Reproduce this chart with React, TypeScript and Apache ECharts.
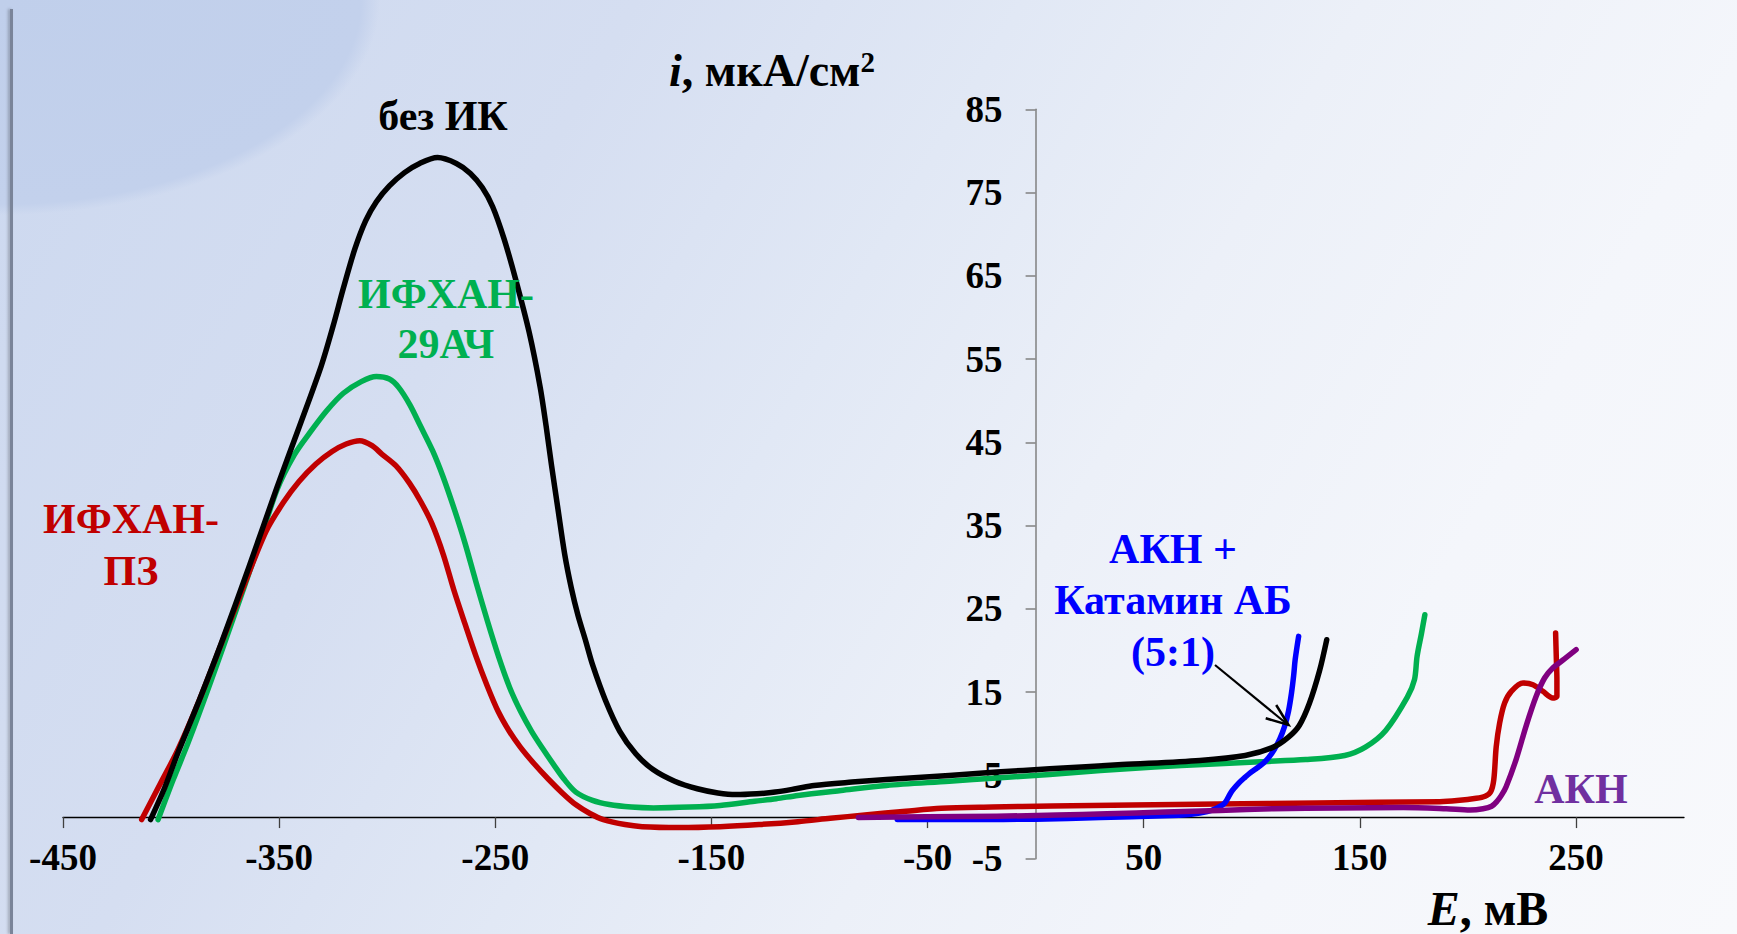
import React, { useEffect, useRef } from "react";
import * as echarts from "echarts";

// Tick values
const xTicks = [-450, -350, -250, -150, -50, 50, 150, 250];
const yTicks = [-5, 5, 15, 25, 35, 45, 55, 65, 75, 85];

// Series data: [E, mV ; i, µA/cm²]
const bezIK: [number, number][] = [
  [-409.5, -0.3], [-403, 3.5], [-397, 7.6], [-387, 14], [-376.6, 21], [-364, 30], [-351, 39.6],
  [-340.5, 47], [-330.5, 54.2], [-325, 59], [-320.3, 63.5], [-315, 68.2], [-310, 71.6], [-305, 73.9],
  [-299, 75.8], [-292, 77.4], [-285, 78.5], [-276.7, 79.2], [-268, 78.5], [-261.5, 77.3], [-256, 75.6],
  [-251.2, 73.3], [-246, 69.5], [-240.8, 64.8], [-234.3, 58.2], [-229.2, 51.6], [-226.5, 47],
  [-224, 42.3], [-221, 37], [-217.9, 31.6], [-214.8, 27.5], [-211.8, 24.3], [-208, 21], [-205, 18.3],
  [-199, 14], [-192.4, 10.3], [-185, 7.6], [-177, 5.7], [-167, 4.3], [-156.5, 3.4], [-147, 2.9],
  [-138.6, 2.7], [-129, 2.8], [-120.5, 3], [-111, 3.4], [-102.5, 3.8], [-85, 4.2], [-69, 4.5],
  [-40, 5], [-18, 5.4], [6.5, 5.8], [40, 6.3], [76, 6.8], [97, 7.4], [110, 8.4], [117, 9.6],
  [122, 11], [126.6, 13.6], [131.4, 17.6], [134.7, 21.3],
];

const ifhan29: [number, number][] = [
  [-406, -0.3], [-399, 4.5], [-392, 9], [-382, 16], [-371.6, 23.6], [-361, 31.5], [-351, 39.3],
  [-343, 43.5], [-335.7, 46.2], [-328, 48.8], [-320.3, 50.9], [-312, 52.3], [-305, 52.9],
  [-299, 52.6], [-294.7, 51.6], [-289.5, 49.5], [-284.5, 46.9], [-279, 44], [-274.2, 40.9],
  [-269, 37], [-264, 32.9], [-259, 28.3], [-253.7, 23.6], [-248.5, 19.3], [-243.4, 15.6],
  [-238.3, 12.7], [-233.2, 10.3], [-228, 8.2], [-223, 6.3], [-218, 4.5], [-212.7, 3], [-205, 2],
  [-197.3, 1.5], [-187, 1.2], [-176.8, 1.1], [-160, 1.2], [-146, 1.4], [-130, 1.9], [-120, 2.2],
  [-110, 2.6], [-90, 3.2], [-69, 3.8], [-40, 4.3], [-18, 4.7], [6.5, 5.1], [30, 5.6], [55, 6.0],
  [80, 6.35], [104, 6.65], [125, 6.9], [143, 7.4], [152.6, 8.4], [162, 10.4], [172, 14.4],
  [175.3, 16.5], [176.5, 19.3], [178.5, 22], [180.1, 24.3],
];

const ifhanPZ: [number, number][] = [
  [-413.6, -0.3], [-405, 4], [-397, 8], [-387, 14], [-376.6, 20.9], [-366, 28], [-356.1, 34.3],
  [-348, 37.8], [-340.8, 40.3], [-333, 42.4], [-325.5, 43.9], [-319, 44.8], [-312.7, 45.2],
  [-307, 44.6], [-302.5, 43.6], [-296, 42.2], [-289.7, 40.1], [-284.5, 37.9], [-279.4, 35.3],
  [-274, 31.5], [-269.2, 27.3], [-264, 23.2], [-258.9, 19.3], [-253.8, 15.8], [-248.7, 12.7],
  [-243.5, 10.3], [-238.4, 8.4], [-232, 6.4], [-225.6, 4.6], [-219, 2.9], [-212.8, 1.5],
  [-206, 0.4], [-200, -0.3], [-190, -0.9], [-182, -1.15], [-165, -1.25], [-146, -1.15],
  [-128, -0.9], [-110, -0.55], [-95, -0.15], [-79, 0.25], [-60, 0.7], [-43.6, 1.05], [-20, 1.2],
  [7.6, 1.33], [45, 1.45], [84.5, 1.57], [130, 1.7], [187, 1.85], [195, 1.98], [203.9, 2.25],
  [208, 2.5], [210.5, 3.0], [212, 4.5], [213.1, 8.4], [214.7, 11.3], [217, 13.7], [220.1, 15.1],
  [225.5, 16.1], [230.1, 15.9], [234.7, 15.1], [239.3, 14.3], [241.2, 14.5], [241.2, 16.5],
  [240.9, 19.3], [240.6, 22.1],
];

const akn: [number, number][] = [
  [-82, -0.05], [-50, 0.05], [-18, 0.1], [10, 0.25], [33, 0.4], [60, 0.6], [85, 0.8], [110, 1.0],
  [140, 1.1], [170, 1.15], [190, 1.0], [201, 0.85], [207, 1.0], [211, 1.3], [213.5, 1.9],
  [215.5, 2.6], [217.7, 3.65], [222.3, 6.9], [226.9, 10.9], [231.6, 14.5], [235.5, 16.7],
  [239.3, 17.9], [244.7, 19], [250.1, 20.1],
];

const aknKatamin: [number, number][] = [
  [-64, -0.3], [-30, -0.3], [0, -0.25], [30, -0.05], [59, 0.15], [72, 0.35], [79.4, 0.65],
  [84, 1.1], [87.6, 1.7], [90.5, 3.0], [94.1, 4.1], [97, 4.8], [99, 5.25], [102, 5.8],
  [105.5, 6.5], [108, 7.2], [110.4, 8.1], [113, 9.4], [115.2, 10.9], [117, 12.7], [118.4, 14.9],
  [119.4, 17], [120.1, 18.9], [121.7, 21.7],
];

const FONT = '"Liberation Serif", "Times New Roman", serif';

const X_MIN = -450;
const X_MAX = 300;
const Y_MIN = -5;
const Y_MAX = 85;

export default function App() {
  const ref = useRef<HTMLDivElement>(null);

  useEffect(() => {
    if (!ref.current) return;
    const chart = echarts.init(ref.current, undefined, { renderer: "svg" });
    const G = { left: 63, top: 109.3, width: 1621, height: 749.4 };
    // distance from grid edges to the zero lines
    const yAxisOffset = -((0 - X_MIN) / (X_MAX - X_MIN)) * G.width;
    const xAxisOffset = -((0 - Y_MIN) / (Y_MAX - Y_MIN)) * G.height;
    const lbl = { fontFamily: FONT, fontWeight: "bold", fontSize: 37, color: "#000" };
    const mk = (name: string, data: [number, number][], color: string, z: number) => ({
      name,
      type: "line",
      data,
      showSymbol: false,
      symbol: "none",
      smooth: 0.3,
      z,
      clip: false,
      lineStyle: { color, width: 5.5, cap: "round", join: "round" },
    });
    const annot = (text: string, x: number, y: number, fill: string, lh = 51) => ({
      type: "text",
      x,
      y,
      z: 100,
      style: {
        text,
        fill,
        fontFamily: FONT,
        fontWeight: "bold",
        fontSize: 42,
        lineHeight: lh,
        align: "center",
        verticalAlign: "middle",
      },
    });
    chart.setOption({
      animation: false,
      backgroundColor: "transparent",
      grid: G,
      xAxis: {
        type: "value",
        min: X_MIN,
        max: X_MAX,
        position: "bottom",
        offset: xAxisOffset,
        splitLine: { show: false },
        axisLine: { onZero: false, lineStyle: { color: "#000", width: 1.3 } },
        axisTick: { customValues: xTicks, length: 11, lineStyle: { color: "#404040", width: 1.3 } },
        axisLabel: { customValues: xTicks, margin: 22, ...lbl },
      },
      yAxis: {
        type: "value",
        min: Y_MIN,
        max: Y_MAX,
        position: "left",
        offset: yAxisOffset,
        splitLine: { show: false },
        axisLine: { onZero: false, lineStyle: { color: "#808080", width: 1.5 } },
        axisTick: { customValues: yTicks, length: 10, lineStyle: { color: "#808080", width: 1.5 } },
        axisLabel: { customValues: yTicks, margin: 33, ...lbl },
      },
      series: [
        mk("ИФХАН-29АЧ", ifhan29, "#00b050", 2),
        mk("ИФХАН-ПЗ", ifhanPZ, "#c00000", 3),
        mk("АКН + Катамин АБ (5:1)", aknKatamin, "#0000ff", 4),
        mk("без ИК", bezIK, "#000000", 5),
        mk("АКН", akn, "#800080", 6),
      ],
      graphic: [
        annot("без ИК", 443, 116, "#000000"),
        annot("ИФХАН-\n29АЧ", 446, 318.5, "#00b050", 50),
        annot("ИФХАН-\nПЗ", 131, 544.5, "#c00000", 52),
        annot("АКН +\nКатамин АБ\n(5:1)", 1173, 600, "#0000ff", 51.5),
        annot("АКН", 1581, 789, "#7030a0"),
        {
          type: "text",
          x: 772,
          y: 70,
          z: 100,
          style: {
            text: "{a|i}{b|, мкА/см}{s|2}",
            align: "center",
            verticalAlign: "middle",
            rich: {
              a: { fontFamily: FONT, fontWeight: "bold", fontStyle: "italic", fontSize: 46, fill: "#000" },
              b: { fontFamily: FONT, fontWeight: "bold", fontSize: 46, fill: "#000" },
              s: { fontFamily: FONT, fontWeight: "bold", fontSize: 29, fill: "#000", verticalAlign: "top" },
            },
          },
        },
        {
          type: "text",
          x: 1488,
          y: 908,
          z: 100,
          style: {
            text: "{a|E}{b|, мВ}",
            align: "center",
            verticalAlign: "middle",
            rich: {
              a: { fontFamily: FONT, fontWeight: "bold", fontStyle: "italic", fontSize: 48, fill: "#000" },
              b: { fontFamily: FONT, fontWeight: "bold", fontSize: 48, fill: "#000" },
            },
          },
        },
        {
          type: "line",
          z: 100,
          shape: { x1: 1215, y1: 665, x2: 1287, y2: 724 },
          style: { stroke: "#000", lineWidth: 2.2 },
        },
        {
          type: "polyline",
          z: 100,
          shape: { points: [[1265.7, 718.3], [1288.5, 725], [1276.2, 705]] },
          style: { stroke: "#000", lineWidth: 2.5, fill: null },
        },
      ],
    });
    return () => chart.dispose();
  }, []);

  return (
    <div
      style={{
        position: "absolute",
        left: 0,
        top: 0,
        width: 1737,
        height: 934,
        overflow: "hidden",
        backgroundColor: "#eef2f9",
        backgroundImage:
          "radial-gradient(ellipse 380px 215px at 0px 0px, #c0cfeb 0%, #c3d1ec 95%, rgba(195,209,236,0) 100%)," +
          "linear-gradient(120deg, #ccd8ef 0%, #d5def1 28%, #e1e8f5 45%, #ecf0f8 60%, #f4f6fb 78%, #f8f9fc 100%)",
      }}
    >
      <div
        style={{
          position: "absolute",
          left: 10,
          top: 9,
          width: 3,
          height: 925,
          background: "#7a8499",
          boxShadow: "-2px 0 3px rgba(0,0,0,0.25)",
        }}
      />
      <div ref={ref} style={{ position: "absolute", left: 0, top: 0, width: 1737, height: 934 }} />
    </div>
  );
}
